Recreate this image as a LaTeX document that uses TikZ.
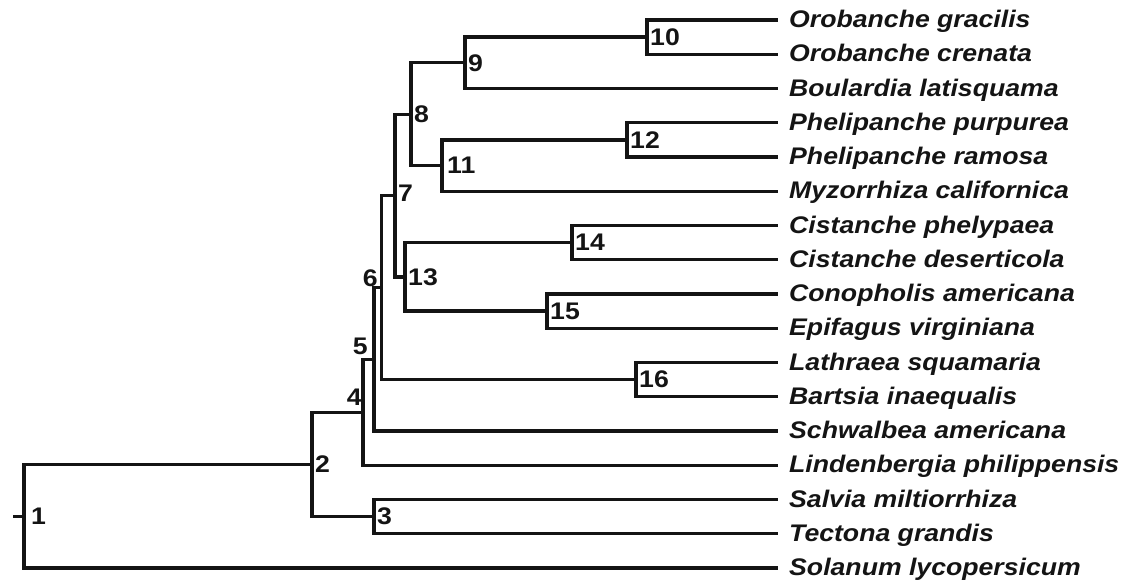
\documentclass[tikz,border=0pt]{standalone}
\usepackage{fontspec}
\setmainfont{Liberation Sans}[FakeStretch=1.11]
\begin{document}
\begin{tikzpicture}[x=1pt,y=-1pt,
  br/.style={line width=3.3pt, line join=miter, color=black!92},
  lf/.style={anchor=base west, inner sep=0pt, text=black!92, font=\bfseries\itshape\fontsize{24}{28}\selectfont},
  num/.style={anchor=west, inner sep=0pt, text=black!92, font=\bfseries\fontsize{24}{28}\selectfont}]
\useasboundingbox (0,0) rectangle (1124,582);
% internal nodes
\coordinate (r)   at (13,516.2);
\coordinate (n1)  at (24,516.2);
\coordinate (n2)  at (312,464.5);
\coordinate (n3)  at (374,516.6);
\coordinate (n4)  at (363,412.3);
\coordinate (n5)  at (374,359.3);
\coordinate (n6)  at (381.5,287.6);
\coordinate (n7)  at (395,195.5);
\coordinate (n8)  at (411,114.2);
\coordinate (n9)  at (465,62.8);
\coordinate (n10) at (647,37.1);
\coordinate (n11) at (442,165.6);
\coordinate (n12) at (627,139.9);
\coordinate (n13) at (405,276.9);
\coordinate (n14) at (572,242.6);
\coordinate (n15) at (547,311.1);
\coordinate (n16) at (636,379.6);
% leaf tips
\coordinate (t1)  at (778,20);
\coordinate (t2)  at (778,54.25);
\coordinate (t3)  at (778,88.5);
\coordinate (t4)  at (778,122.75);
\coordinate (t5)  at (778,157);
\coordinate (t6)  at (778,191.25);
\coordinate (t7)  at (778,225.5);
\coordinate (t8)  at (778,259.75);
\coordinate (t9)  at (778,294);
\coordinate (t10) at (778,328.25);
\coordinate (t11) at (778,362.5);
\coordinate (t12) at (778,396.75);
\coordinate (t13) at (778,431);
\coordinate (t14) at (778,465.25);
\coordinate (t15) at (778,499.5);
\coordinate (t16) at (778,533.75);
\coordinate (t17) at (778,568);
% leaf labels
\node[lf] (l1)  at (789,27.6)   {Orobanche gracilis};
\node[lf] (l2)  at (789,61.85)  {Orobanche crenata};
\node[lf] (l3)  at (789,96.1)   {Boulardia latisquama};
\node[lf] (l4)  at (789,130.35) {Phelipanche purpurea};
\node[lf] (l5)  at (789,164.6)  {Phelipanche ramosa};
\node[lf] (l6)  at (789,198.85) {Myzorrhiza californica};
\node[lf] (l7)  at (789,233.1)  {Cistanche phelypaea};
\node[lf] (l8)  at (789,267.35) {Cistanche deserticola};
\node[lf] (l9)  at (789,301.6)  {Conopholis americana};
\node[lf] (l10) at (789,335.85) {Epifagus virginiana};
\node[lf] (l11) at (789,370.1)  {Lathraea squamaria};
\node[lf] (l12) at (789,404.35) {Bartsia inaequalis};
\node[lf] (l13) at (789,438.6)  {Schwalbea americana};
\node[lf] (l14) at (789,472.85) {Lindenbergia philippensis};
\node[lf] (l15) at (789,507.1)  {Salvia miltiorrhiza};
\node[lf] (l16) at (789,541.35) {Tectona grandis};
\node[lf] (l17) at (789,575.6)  {Solanum lycopersicum};
% branches
\draw[br] (r) -- (n1);
\draw[br] (n1) |- (n2);  \draw[br] (n1) |- (t17);
\draw[br] (n2) |- (n4);  \draw[br] (n2) |- (n3);
\draw[br] (n3) |- (t15); \draw[br] (n3) |- (t16);
\draw[br] (n4) |- (n5);  \draw[br] (n4) |- (t14);
\draw[br] (n5) |- (n6);  \draw[br] (n5) |- (t13);
\draw[br] (n6) |- (n7);  \draw[br] (n6) |- (n16);
\draw[br] (n16) |- (t11); \draw[br] (n16) |- (t12);
\draw[br] (n7) |- (n8);  \draw[br] (n7) |- (n13);
\draw[br] (n8) |- (n9);  \draw[br] (n8) |- (n11);
\draw[br] (n9) |- (n10); \draw[br] (n9) |- (t3);
\draw[br] (n10) |- (t1); \draw[br] (n10) |- (t2);
\draw[br] (n11) |- (n12); \draw[br] (n11) |- (t6);
\draw[br] (n12) |- (t4); \draw[br] (n12) |- (t5);
\draw[br] (n13) |- (n14); \draw[br] (n13) |- (n15);
\draw[br] (n14) |- (t7); \draw[br] (n14) |- (t8);
\draw[br] (n15) |- (t9); \draw[br] (n15) |- (t10);
% node numbers
\node[num] (k1)  at ([xshift=7pt]n1)  {1};
\node[num] (k2)  at ([xshift=3pt]n2)  {2};
\node[num] (k3)  at ([xshift=3pt]n3)  {3};
\node[num, anchor=south east] (k4) at (362,406) {4};
\node[num, anchor=south east] (k5) at (368,355) {5};
\node[num, anchor=south east] (k6) at (378,287) {6};
\node[num] (k7)  at ([xshift=3pt,yshift=2pt]n7)  {7};
\node[num] (k8)  at ([xshift=3pt]n8)  {8};
\node[num] (k9)  at ([xshift=3pt]n9)  {9};
\node[num] (k10) at ([xshift=3pt]n10) {10};
\node[num] (k11) at ([xshift=5pt]n11) {11};
\node[num] (k12) at ([xshift=3pt]n12) {12};
\node[num] (k13) at ([xshift=3pt]n13) {13};
\node[num] (k14) at ([xshift=3pt]n14) {14};
\node[num] (k15) at ([xshift=3pt]n15) {15};
\node[num] (k16) at ([xshift=3pt]n16) {16};
\end{tikzpicture}
\end{document}
